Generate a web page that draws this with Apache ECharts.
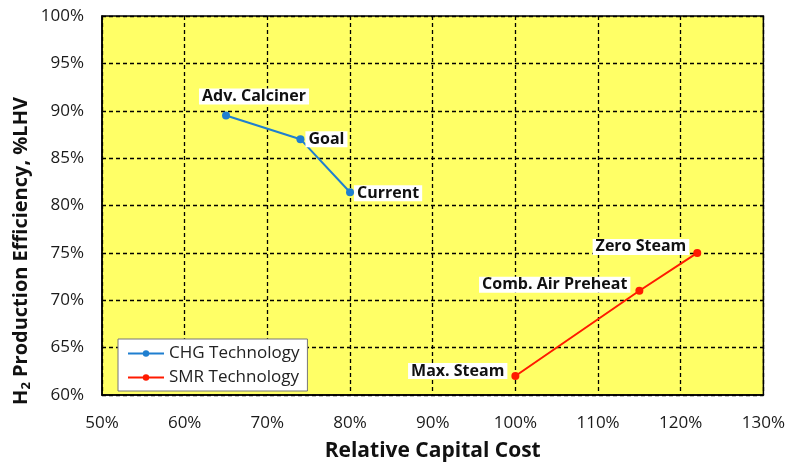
<!DOCTYPE html>
<html>
<head>
<meta charset="utf-8">
<title>H2 Production Efficiency vs Capital Cost</title>
<script src="https://cdn.jsdelivr.net/npm/echarts@6/dist/echarts.min.js"></script>
<style>
  html, body { margin: 0; padding: 0; background: #fff; }
  #chart { width: 788px; height: 467px; }
</style>
</head>
<body>
<div id="chart"></div>
<script>
// data (percent)
var chgNames = ['Adv. Calciner', 'Goal', 'Current'];
var chgCost = [65, 74, 80];
var chgEff = [89.5, 87.0, 81.4];

var smrNames = ['Max. Steam', 'Comb. Air Preheat', 'Zero Steam'];
var smrCost = [100, 115, 122];
var smrEff = [62.0, 71.0, 75.0];

var xTicks = [50, 60, 70, 80, 90, 100, 110, 120, 130];
var yTicks = [60, 65, 70, 75, 80, 85, 90, 95, 100];

// where each point label sits
var labelPlace = {
  'Adv. Calciner': { position: 'top', offset: [28, -3] },
  'Goal': { position: 'right', offset: [-3, 0] },
  'Current': { position: 'right', offset: [-4, 1] },
  'Max. Steam': { position: 'left', offset: [0, -5] },
  'Comb. Air Preheat': { position: 'left', offset: [-1, -6] },
  'Zero Steam': { position: 'left', offset: [0, -6] }
};

var font = '"Open Sans", Lato, sans-serif';

function buildData(names, xs, ys) {
  var out = [];
  for (var i = 0; i < names.length; i++) {
    var p = labelPlace[names[i]];
    out.push({
      name: names[i],
      value: [xs[i], ys[i]],
      label: { position: p.position, offset: p.offset }
    });
  }
  return out;
}

var pointLabel = {
  show: true,
  formatter: '{b}',
  color: '#111',
  fontFamily: font,
  fontWeight: 'bold',
  fontSize: 16,
  backgroundColor: '#fff',
  padding: [0, 3],
  distance: 4
};

var chart = echarts.init(document.getElementById('chart'));
var option = {
  animation: false,
  grid: {
    left: 102, right: 24, top: 16, bottom: 71,
    show: true,
    backgroundColor: '#ffff66',
    borderColor: '#000',
    borderWidth: 1.5
  },
  // y axis title, drawn by hand so it can sit a bit low like the original
  graphic: [{
    type: 'text',
    x: 21, y: 251,
    rotation: Math.PI / 2,
    style: {
      text: '{a|H}{s|2}{a| Production Efficiency, %LHV}',
      align: 'center',
      verticalAlign: 'middle',
      rich: {
        a: { fontFamily: font, fontSize: 20, fontWeight: 'bold', fill: '#111' },
        s: { fontFamily: font, fontSize: 13, fontWeight: 'bold', fill: '#111', verticalAlign: 'bottom', padding: [10, 0, 0, 0] }
      }
    }
  }],
  legend: {
    orient: 'vertical',
    left: 118, top: 339,
    backgroundColor: '#fff',
    borderColor: '#777',
    borderWidth: 1,
    padding: [6, 8, 5, 9],
    itemGap: 7,
    itemWidth: 36,
    itemHeight: 8,
    textStyle: { fontFamily: font, fontSize: 17, color: '#222' },
    data: ['CHG Technology', 'SMR Technology']
  },
  xAxis: {
    type: 'value',
    min: xTicks[0], max: xTicks[xTicks.length - 1], interval: 10,
    name: 'Relative Capital Cost',
    nameLocation: 'middle',
    nameGap: 46,
    nameTextStyle: { fontFamily: font, fontSize: 21, fontWeight: 'bold', color: '#111' },
    axisLine: { lineStyle: { color: '#000', width: 1.5 } },
    axisTick: { show: false },
    axisLabel: { formatter: '{value}%', margin: 20, fontFamily: font, fontSize: 17, color: '#1a1a1a' },
    splitLine: { lineStyle: { color: '#000', type: [4, 3], width: 1.3 } }
  },
  yAxis: {
    type: 'value',
    min: yTicks[0], max: yTicks[yTicks.length - 1], interval: 5,
    axisLine: { lineStyle: { color: '#000', width: 1.5 } },
    axisTick: { show: false },
    axisLabel: { formatter: '{value}%', margin: 18, fontFamily: font, fontSize: 17, color: '#1a1a1a' },
    splitLine: { lineStyle: { color: '#000', type: [4, 3], width: 1.3 } }
  },
  series: [
    {
      name: 'CHG Technology',
      type: 'line',
      symbol: 'circle',
      symbolSize: 8,
      color: '#1f7fd0',
      lineStyle: { width: 2 },
      label: pointLabel,
      data: buildData(chgNames, chgCost, chgEff)
    },
    {
      name: 'SMR Technology',
      type: 'line',
      symbol: 'circle',
      symbolSize: 8,
      color: '#ff1a00',
      lineStyle: { width: 2 },
      label: pointLabel,
      data: buildData(smrNames, smrCost, smrEff)
    }
  ]
};
chart.setOption(option);
</script>
</body>
</html>
